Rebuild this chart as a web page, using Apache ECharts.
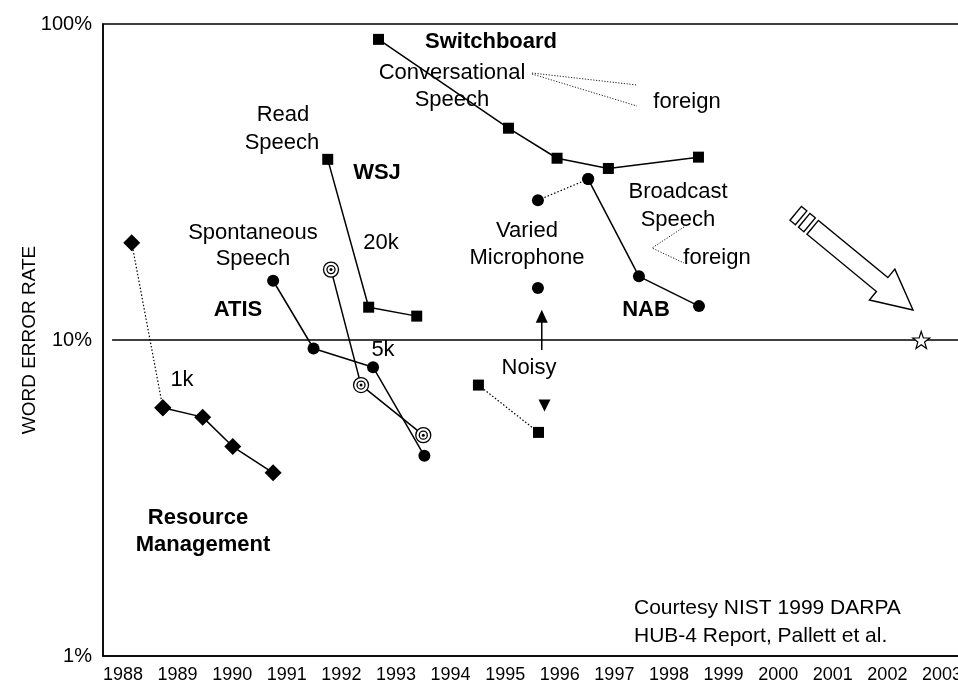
<!DOCTYPE html>
<html lang="en">
<head>
<meta charset="UTF-8">
<title>Word error rate history</title>
<script src="https://cdn.jsdelivr.net/npm/echarts@6/dist/echarts.min.js"></script>
<style>
    html, body { margin: 0; height: 100%; background: #fff; overflow: hidden; }
    #main { width: 985px; height: 690px; }
</style>
</head>
<body>
<div id="main"></div>
<script>
// tick labels
var tickYears = [1988, 1989, 1990, 1991, 1992, 1993, 1994, 1995, 1996, 1997, 1998, 1999, 2000, 2001, 2002, 2003];

// Resource Management (1k)
var rmYears = [1988.16, 1988.73, 1989.46, 1990.01, 1990.75];
var rmWer = [20.3, 6.1, 5.7, 4.6, 3.8];
// ATIS spontaneous speech
var atisYears = [1990.75, 1991.49, 1992.58, 1993.52];
var atisWer = [15.4, 9.4, 8.2, 4.3];
// WSJ 5k
var wsj5kYears = [1991.81, 1992.36, 1993.50];
var wsj5kWer = [16.7, 7.2, 5.0];
// WSJ read speech / 20k
var wsj20kYears = [1991.75, 1992.50, 1993.38];
var wsj20kWer = [37.3, 12.7, 11.9];
// Switchboard
var swbYears = [1992.68, 1995.06, 1995.95, 1996.89, 1998.54];
var swbWer = [89.4, 46.8, 37.6, 34.9, 37.9];
// Varied microphone -> NAB broadcast
var nabYears = [1995.60, 1996.52, 1997.45, 1998.55];
var nabWer = [27.7, 32.3, 15.9, 12.8];
var micYears = [1995.60];
var micWer = [14.6];
// Noisy
var noisyYears = [1994.51, 1995.61];
var noisyWer = [7.2, 5.1];
var noisyUp = [9.3, 11.9];        // arrow from ... to
var noisyUpYear = 1995.67;
var noisyDown = [[1995.72, 6.2]];
// 10% reference line and target star
var tenLine = [[1987.8, 10], [2003.4, 10]];
var target = [[2002.62, 10]];

function pts(xs, ys) {
    return xs.map(function (x, i) { return [x, ys[i]]; });
}

var FONT = '"Liberation Sans", Arial, sans-serif';
var BLACK = '#000';

var starPath = 'path://M0,-10 L2.35,-3.24 L9.51,-3.09 L3.8,1.24 L5.88,8.09 L0,4 L-5.88,8.09 L-3.8,1.24 L-9.51,-3.09 L-2.35,-3.24 Z';

function solid(data, symbol, size) {
    return {
        type: 'line', data: data, symbol: symbol, symbolSize: size, showSymbol: true,
        lineStyle: { color: BLACK, width: 1.5 }, itemStyle: { color: BLACK, opacity: 1 },
        z: 3, silent: true
    };
}
function dotted(data, symbol, size) {
    return {
        type: 'line', data: data, symbol: symbol, symbolSize: size, showSymbol: true,
        lineStyle: { color: BLACK, width: 1.2, type: [1.5, 2] }, itemStyle: { color: BLACK, opacity: 1 },
        z: 3, silent: true
    };
}

// annotations
var notes = [
    ['Switchboard', 491, 42, true],
    ['Conversational', 452, 73],
    ['Speech', 452, 100],
    ['foreign', 687, 102],
    ['Read', 283, 115],
    ['Speech', 282, 143],
    ['WSJ', 377, 173, true],
    ['Broadcast', 678, 192],
    ['Speech', 678, 220],
    ['Spontaneous', 253, 233],
    ['Speech', 253, 259],
    ['20k', 381, 243],
    ['Varied', 527, 231],
    ['Microphone', 527, 258],
    ['foreign', 717, 258],
    ['ATIS', 238, 310, true],
    ['NAB', 646, 310, true],
    ['5k', 383, 350],
    ['Noisy', 529, 368],
    ['1k', 182, 380],
    ['Resource', 198, 518, true],
    ['Management', 203, 545, true]
];

var graphics = notes.map(function (n) {
    return {
        type: 'text', x: n[1], y: n[2], z: 10, silent: true,
        style: {
            text: n[0], fill: BLACK,
            font: (n[3] ? 'bold ' : '') + '22px ' + FONT,
            align: 'center', verticalAlign: 'middle',
            textAlign: 'center', textVerticalAlign: 'middle'
        }
    };
});
graphics.push({
    type: 'text', x: 634, y: 608, z: 10, silent: true,
    style: { text: 'Courtesy NIST 1999 DARPA', fill: BLACK, font: '21px ' + FONT,
        align: 'left', verticalAlign: 'middle', textAlign: 'left', textVerticalAlign: 'middle' }
});
graphics.push({
    type: 'text', x: 634, y: 636, z: 10, silent: true,
    style: { text: 'HUB-4 Report, Pallett et al.', fill: BLACK, font: '21px ' + FONT,
        align: 'left', verticalAlign: 'middle', textAlign: 'left', textVerticalAlign: 'middle' }
});

// dotted pointers to "foreign"
var dotStyle = { stroke: '#222', lineWidth: 1, lineDash: [1.2, 1.6], fill: null };
graphics.push({ type: 'polyline', silent: true, shape: { points: [[532, 73], [637, 85]] }, style: dotStyle });
graphics.push({ type: 'polyline', silent: true, shape: { points: [[532, 74], [637, 106]] }, style: dotStyle });
graphics.push({ type: 'polyline', silent: true, shape: { points: [[684, 227], [652, 248], [684, 263]] }, style: dotStyle });

// big hollow arrow pointing to the target
(function () {
    var tip = [913, 310], ang = 39.5 * Math.PI / 180;
    var u = [Math.cos(ang), Math.sin(ang)], v = [-Math.sin(ang), Math.cos(ang)];
    function P(a, b) { return [tip[0] + a * u[0] + b * v[0], tip[1] + a * u[1] + b * v[1]]; }
    var st = { fill: '#fff', stroke: BLACK, lineWidth: 1.4 };
    graphics.push({ type: 'polygon', silent: true, z: 5,
        shape: { points: [P(0, 0), P(-40, 20), P(-40, 9), P(-130, 9), P(-130, -9), P(-40, -9), P(-40, -20)] }, style: st });
    graphics.push({ type: 'polygon', silent: true, z: 5,
        shape: { points: [P(-134, 9), P(-141, 9), P(-141, -9), P(-134, -9)] }, style: st });
    graphics.push({ type: 'polygon', silent: true, z: 5,
        shape: { points: [P(-145, 9), P(-152, 9), P(-152, -9), P(-145, -9)] }, style: st });
})();

var myChart = echarts.init(document.getElementById('main'));

var option = {
    animation: false,
    backgroundColor: '#fff',
    grid: { left: 103, top: 24, right: 22, bottom: 34, show: true, borderColor: BLACK, borderWidth: 1.5 },
    xAxis: {
        type: 'value', min: 1987.634, max: 2003.385,
        axisLine: { show: true, onZero: false, lineStyle: { color: BLACK, width: 1.5 } },
        axisTick: { show: false },
        splitLine: { show: false },
        axisLabel: {
            customValues: tickYears, formatter: function (v) { return String(v); },
            color: BLACK, fontSize: 18, fontFamily: FONT, margin: 10
        }
    },
    yAxis: {
        type: 'log', logBase: 10, min: 1, max: 100,
        name: 'WORD ERROR RATE', nameLocation: 'middle', nameGap: 64, nameRotate: 90,
        nameMoveOverlap: false,
        nameTextStyle: { color: BLACK, fontSize: 19, fontFamily: FONT },
        axisLine: { show: true, lineStyle: { color: BLACK, width: 1.5 } },
        axisTick: { show: false },
        splitLine: { show: false },
        axisLabel: {
            customValues: [1, 10, 100],
            formatter: function (v) { return v + '%'; },
            color: BLACK, fontSize: 20, fontFamily: FONT, margin: 11
        }
    },
    graphic: graphics,
    series: [
        { type: 'line', data: tenLine, symbol: 'none', silent: true,
          lineStyle: { color: BLACK, width: 1.5 }, z: 2 },
        dotted(pts(rmYears.slice(0, 2), rmWer.slice(0, 2)), 'diamond', 17),
        solid(pts(rmYears.slice(1), rmWer.slice(1)), 'diamond', 17),
        solid(pts(atisYears, atisWer), 'circle', 12),
        solid(pts(wsj20kYears, wsj20kWer), 'rect', 11),
        solid(pts(swbYears, swbWer), 'rect', 11),
        dotted(pts(nabYears.slice(0, 2), nabWer.slice(0, 2)), 'circle', 12),
        solid(pts(nabYears.slice(1), nabWer.slice(1)), 'circle', 12),
        { type: 'scatter', data: pts(micYears, micWer), symbol: 'circle', symbolSize: 12,
          itemStyle: { color: BLACK, opacity: 1 }, silent: true, z: 4 },
        dotted(pts(noisyYears, noisyWer), 'rect', 11),
        // WSJ 5k ringed markers
        { type: 'line', data: pts(wsj5kYears, wsj5kWer), symbol: 'circle', symbolSize: 15, showSymbol: true,
          lineStyle: { color: BLACK, width: 1.5 },
          itemStyle: { color: '#fff', borderColor: BLACK, borderWidth: 1.3, opacity: 1 }, silent: true, z: 4 },
        { type: 'scatter', data: pts(wsj5kYears, wsj5kWer), symbol: 'circle', symbolSize: 8,
          itemStyle: { color: '#fff', borderColor: BLACK, borderWidth: 1.3, opacity: 1 }, silent: true, z: 5 },
        { type: 'scatter', data: pts(wsj5kYears, wsj5kWer), symbol: 'circle', symbolSize: 3,
          itemStyle: { color: BLACK, opacity: 1 }, silent: true, z: 6 },
        // Noisy arrows
        { type: 'line', silent: true, symbol: 'triangle', showSymbol: true, z: 4,
          data: [
              { value: [noisyUpYear, noisyUp[0]], symbol: 'none' },
              { value: [noisyUpYear, noisyUp[1]], symbol: 'triangle', symbolSize: [12, 13] }
          ],
          lineStyle: { color: BLACK, width: 1.5 }, itemStyle: { color: BLACK, opacity: 1 } },
        { type: 'scatter', data: noisyDown, symbol: 'triangle', symbolRotate: 180, symbolSize: [12, 12],
          itemStyle: { color: BLACK, opacity: 1 }, silent: true, z: 4 },
        // target star
        { type: 'scatter', data: target, symbol: starPath, symbolSize: 17,
          itemStyle: { color: '#fff', borderColor: BLACK, borderWidth: 1.2, opacity: 1 }, silent: true, z: 6 }
    ]
};

myChart.setOption(option);
</script>
</body>
</html>
